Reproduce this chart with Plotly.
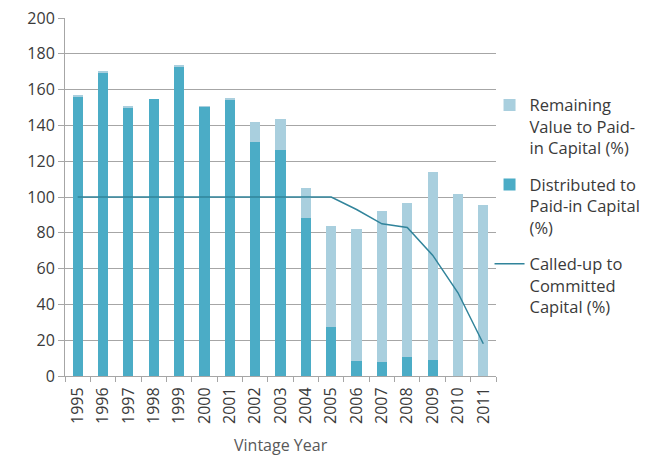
import plotly.graph_objects as go

years = [str(y) for y in range(1995, 2012)]
distributed = [156.0, 169.5, 150.0, 154.8, 172.9, 150.3, 154.5, 131.0, 126.3,
               88.4, 27.3, 8.6, 7.8, 10.5, 9.2, 0.0, 0.0]
remaining = [0.6, 0.6, 0.5, 0.0, 1.0, 0.4, 0.3, 11.0, 17.4,
             16.8, 56.3, 73.3, 84.6, 86.0, 104.8, 101.7, 95.5]
called_up = [100, 100, 100, 100, 100, 100, 100, 100, 100,
             100, 100, 93, 85, 83, 67.5, 46.5, 18]

y_ticks = [0, 20, 40, 60, 80, 100, 120, 140, 160, 180, 200]

FONT = "Open Sans"
TEXT = "#3a3a3a"
GRID = "#a6a6a6"

fig = go.Figure()

fig.add_trace(go.Bar(
    x=years, y=distributed,
    name="Distributed to<br>Paid-in Capital<br>(%)",
    marker=dict(color="#4bacc6", line=dict(width=0)),
    legendrank=2, legendgroup="d",
))
fig.add_trace(go.Bar(
    x=years, y=remaining,
    name="Remaining<br>Value to Paid-<br>in Capital (%)",
    marker=dict(color="#a9cfde", line=dict(width=0)),
    legendrank=1, legendgroup="r",
))
fig.add_trace(go.Scatter(
    x=years, y=called_up, mode="lines",
    name="Called-up to<br>Committed<br>Capital (%)",
    line=dict(color="#31849b", width=1.5),
    legendrank=3, legendgroup="c",
))

# x-axis title placed below the rotated year labels
fig.add_annotation(
    text="Vintage Year", xref="paper", yref="paper", x=0.5, y=0,
    xanchor="center", yanchor="middle", yshift=-69, showarrow=False,
    font=dict(family=FONT, size=16, color="#595959"),
)

fig.update_layout(
    width=656, height=455,
    margin=dict(l=65, r=160, t=18, b=79, autoexpand=False),
    paper_bgcolor="white", plot_bgcolor="white",
    barmode="stack", bargap=0.6,
    font=dict(family=FONT, size=15, color=TEXT),
    showlegend=True,
    legend=dict(
        x=0.985, xanchor="left", y=0.805, yanchor="top",
        font=dict(family=FONT, size=16.5, color=TEXT),
        valign="top", tracegroupgap=12,
        bgcolor="rgba(0,0,0,0)", itemwidth=30,
    ),
    xaxis=dict(
        type="category", tickangle=-90, automargin=False,
        showline=True, linecolor=GRID, linewidth=1,
        ticks="outside", tickson="boundaries", ticklen=5, tickcolor=GRID,
        showgrid=False, ticklabelstandoff=4,
        tickfont=dict(family=FONT, size=16, color=TEXT),
    ),
    yaxis=dict(
        range=[0, 200], tickvals=y_ticks, automargin=False,
        showline=True, linecolor=GRID, linewidth=1,
        showgrid=True, gridcolor=GRID, gridwidth=1,
        ticks="outside", ticklen=6, tickcolor=GRID,
        zeroline=False,
        tickfont=dict(family=FONT, size=16, color=TEXT),
    ),
)

fig.write_html("out.html")
